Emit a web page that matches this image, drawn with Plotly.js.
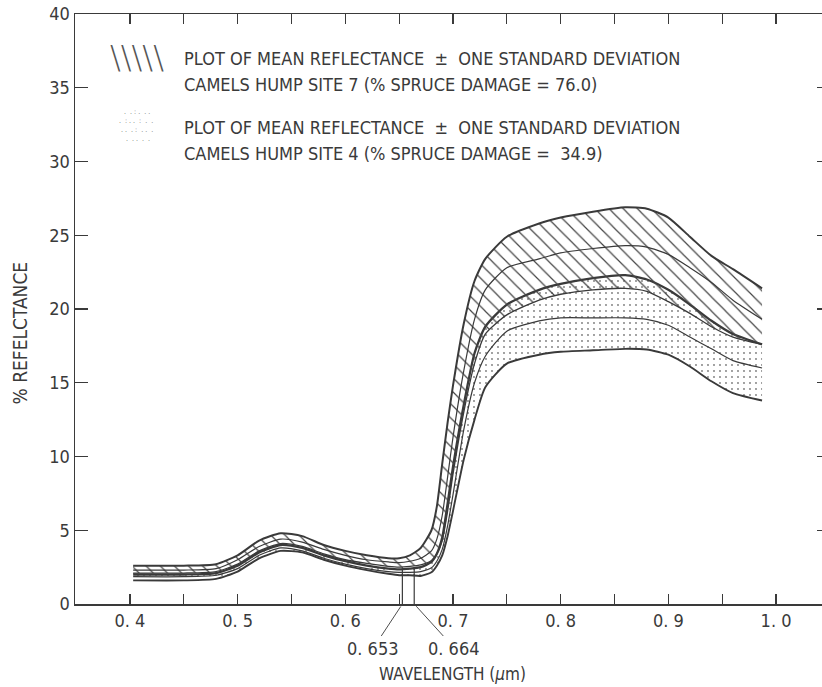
<!DOCTYPE html>
<html>
<head>
<meta charset="utf-8">
<script src="https://cdn.plot.ly/plotly-3.0.1.min.js"></script>
<style>
html,body{margin:0;padding:0;background:#fff;overflow:hidden;}
#chart{width:830px;height:687px;}
</style>
</head>
<body>
<div id="chart"></div>
<script>
// ---- data ----
const wavelength = [0.403,0.45,0.48,0.50,0.52,0.54,0.56,0.58,0.60,0.62,0.64,0.65,0.66,0.67,0.68,0.685,0.69,0.695,0.70,0.71,0.72,0.73,0.75,0.78,0.80,0.83,0.86,0.88,0.90,0.92,0.94,0.96,0.987];
const site7Upper = [2.6,2.6,2.7,3.3,4.3,4.8,4.6,4.0,3.6,3.3,3.1,3.1,3.3,3.8,5.0,6.6,9.5,12.3,14.8,19.0,21.9,23.4,24.9,25.8,26.2,26.6,26.9,26.8,26.2,24.9,23.6,22.7,21.4];
const site7Mean  = [2.3,2.3,2.4,3.0,3.9,4.4,4.2,3.7,3.3,3.0,2.85,2.8,2.9,3.1,3.6,4.4,6.0,8.6,11.3,15.8,19.3,21.3,22.8,23.4,23.8,24.1,24.3,24.2,23.7,22.8,21.8,20.6,19.3];
const site7Lower = [2.1,2.1,2.2,2.7,3.6,4.1,3.9,3.4,3.0,2.75,2.55,2.5,2.55,2.65,2.95,3.4,4.3,6.3,8.8,13.0,16.3,18.3,19.6,20.6,21.0,21.3,21.4,21.2,20.5,19.7,18.8,18.1,17.6];
const site4Upper = [2.0,2.0,2.1,2.6,3.5,4.0,3.8,3.3,2.9,2.6,2.4,2.35,2.4,2.5,2.85,3.4,4.5,6.8,9.3,13.5,17.0,18.8,20.3,21.3,21.7,22.1,22.3,22.0,21.3,20.3,19.2,18.3,17.6];
const site4Mean  = [1.85,1.85,1.95,2.4,3.3,3.8,3.6,3.1,2.7,2.4,2.2,2.15,2.15,2.2,2.45,2.9,3.7,5.3,7.4,11.8,15.0,16.8,18.5,19.2,19.4,19.4,19.4,19.3,18.9,18.1,17.3,16.5,16.0];
const site4Lower = [1.6,1.6,1.7,2.2,3.1,3.6,3.5,3.0,2.6,2.3,2.05,1.95,1.95,1.9,2.15,2.6,3.3,4.6,6.3,9.8,12.5,14.7,16.3,16.9,17.1,17.2,17.3,17.25,16.9,16.1,15.1,14.3,13.8];

const markedWavelengths = [0.653, 0.664];
const markedLabels = ['0. 653', '0. 664'];
const markedTop = [2.5, 2.5];

const xTickVals = [0.40,0.45,0.50,0.55,0.60,0.65,0.70,0.75,0.80,0.85,0.90,0.95,1.00];
const xTickText = ['0. 4','','0. 5','','0. 6','','0. 7','','0. 8','','0. 9','','1. 0'];
const yTickVals = [0,5,10,15,20,25,30,35,40];
const yTickText = ['0','5','10','15','20','25','30','35','40'];

const legendLines = [
  'PLOT OF MEAN REFLECTANCE  \u00b1  ONE STANDARD DEVIATION',
  'CAMELS HUMP SITE 7 (% SPRUCE DAMAGE = 76.0)',
  'PLOT OF MEAN REFLECTANCE  \u00b1  ONE STANDARD DEVIATION',
  'CAMELS HUMP SITE 4 (% SPRUCE DAMAGE =  34.9)'
];

// ---- styling ----
const FONT = 'Liberation Sans Narrow, DejaVu Sans Condensed, Arial Narrow, sans-serif';
const INK = '#3a3a3a';
const spline = {shape:'spline', smoothing:0.6};

function line(y, w, extra) {
  return Object.assign({
    type:'scatter', mode:'lines', x:wavelength, y:y,
    line:Object.assign({color:INK, width:w}, spline),
    hoverinfo:'skip', showlegend:false
  }, extra || {});
}

const traces = [
  line(site4Lower, 1.9),
  line(site4Upper, 2.3, {fill:'tonexty', fillcolor:'rgba(0,0,0,0)',
       fillpattern:{shape:'.', size:6, solidity:0.07, fgcolor:'#777', bgcolor:'rgba(0,0,0,0)'}}),
  line(site7Lower, 1.3),
  line(site7Upper, 2.0, {fill:'tonexty', fillcolor:'rgba(0,0,0,0)',
       fillpattern:{shape:'\\', size:10, solidity:0.12, fgcolor:'#444', bgcolor:'rgba(0,0,0,0)'}}),
  line(site7Mean, 1.2),
  line(site4Mean, 1.2)
];
markedWavelengths.forEach(function(w, i){
  traces.push({type:'scatter', mode:'lines', x:[w,w], y:[0, markedTop[i]],
    line:{color:INK, width:1.2}, hoverinfo:'skip', showlegend:false});
});

const annotations = [];
const legendY = [0.925, 0.881, 0.808, 0.764];
legendLines.forEach(function(t, i){
  annotations.push({xref:'paper', yref:'paper', x:0.1417, y:legendY[i], xanchor:'left', yanchor:'middle',
    text:t, showarrow:false, font:{family:FONT, size:18, color:INK}});
});
// legend keys
annotations.push({xref:'paper', yref:'paper', x:0.082, y:0.927, xanchor:'center', yanchor:'middle',
  text:'\\\\\\\\\\', showarrow:false, font:{family:'DejaVu Sans', weight:200, size:32, color:'#555'}});
annotations.push({xref:'paper', yref:'paper', x:0.081, y:0.811, xanchor:'center', yanchor:'middle',
  text:' .  . : .  . .<br>.  : . .  :  .  .<br> . .  . :  . .  .<br>  .  . .  .  .', showarrow:false,
  font:{family:FONT, size:7, color:'#777'}});
// marked wavelengths
markedWavelengths.forEach(function(w, i){
  annotations.push({xref:'x', yref:'y', x:w, y:0, text:markedLabels[i], showarrow:true,
    arrowhead:0, arrowwidth:0.9, arrowcolor:INK, standoff:3,
    ax: i === 0 ? -29 : 40, ay:44, font:{family:FONT, size:18, color:INK}});
});
// y title
annotations.push({xref:'paper', yref:'paper', x:-0.073, y:0.46, xanchor:'center', yanchor:'middle',
  text:'% REFELCTANCE', textangle:-90, showarrow:false, font:{family:FONT, size:19, color:INK}});

const layout = {
  width:830, height:687,
  margin:{l:75, r:0, t:14, b:83},
  paper_bgcolor:'#fff', plot_bgcolor:'#fff',
  showlegend:false,
  font:{family:FONT, color:INK},
  xaxis:{
    range:[0.349, 1.0501], showgrid:false, zeroline:false,
    showline:true, linecolor:INK, linewidth:1.5, mirror:'ticks',
    ticks:'inside', ticklen:10, tickwidth:1.2, tickcolor:INK,
    tickmode:'array', tickvals:xTickVals, ticktext:xTickText,
    tickfont:{family:FONT, size:18, color:INK},
    title:{text:'WAVELENGTH (<i>\u03bc</i>m)', font:{family:FONT, size:17, color:INK}, standoff:38}
  },
  yaxis:{
    range:[0, 40], showgrid:false, zeroline:false,
    showline:true, linecolor:INK, linewidth:1.5, mirror:'ticks',
    ticks:'inside', ticklen:13, tickwidth:1.2, tickcolor:INK,
    tickmode:'array', tickvals:yTickVals, ticktext:yTickText,
    tickfont:{family:FONT, size:18, color:INK}
  },
  annotations:annotations
};

Plotly.newPlot('chart', traces, layout, {staticPlot:true, displayModeBar:false});
</script>
</body>
</html>
